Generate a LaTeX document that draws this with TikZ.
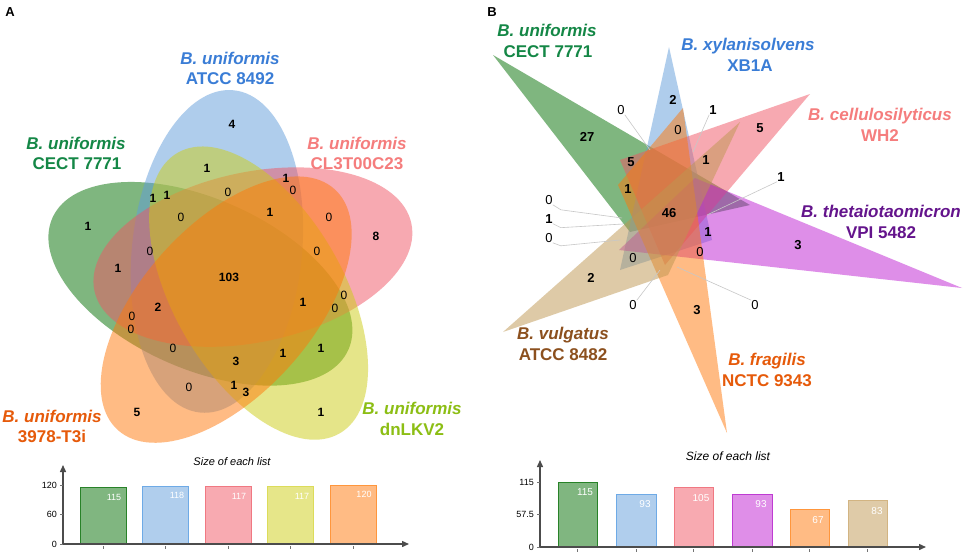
\documentclass[tikz,border=0pt]{standalone}
\usepackage{fontspec}
\setmainfont{Liberation Sans}
\usetikzlibrary{arrows.meta}
\definecolor{cgreen}{RGB}{0,110,0}
\definecolor{cblue}{RGB}{97,157,219}
\definecolor{cpink}{RGB}{240,85,100}
\definecolor{cyellow}{RGB}{205,205,20}
\definecolor{corange}{RGB}{255,120,10}
\definecolor{cpurple}{RGB}{190,30,210}
\definecolor{ctan}{RGB}{190,150,80}
\definecolor{tgreen}{RGB}{20,135,70}
\definecolor{tblue}{RGB}{58,125,214}
\definecolor{tpink}{RGB}{245,125,125}
\definecolor{tyellow}{RGB}{140,190,20}
\definecolor{torange}{RGB}{230,90,10}
\definecolor{tpurple}{RGB}{100,20,140}
\definecolor{tbrown}{RGB}{140,80,30}
\definecolor{sgreen}{RGB}{40,130,40}
\definecolor{sblue}{RGB}{110,170,230}
\definecolor{spink}{RGB}{240,120,130}
\definecolor{syellow}{RGB}{220,220,90}
\definecolor{sorange}{RGB}{255,150,60}
\definecolor{spurple}{RGB}{190,60,210}
\definecolor{stan}{RGB}{210,180,130}
\begin{document}
\begin{tikzpicture}[x=1pt,y=-1pt,
  venn/.style={fill opacity=0.5},
  lab/.style={font=\fontsize{17}{20}\selectfont\bfseries, anchor=base, inner sep=0pt},
  na/.style={font=\fontsize{12}{14}\selectfont\bfseries, inner sep=0pt},
  za/.style={font=\fontsize{12}{14}\selectfont, inner sep=0pt},
  nb/.style={font=\fontsize{13}{15}\selectfont\bfseries, inner sep=0pt},
  zb/.style={font=\fontsize{13}{15}\selectfont, inner sep=0pt},
  lead/.style={draw=black!22, line width=0.6pt},
  chartaxis/.style={draw=black!70, line width=1.4pt, -{Triangle[length=7pt,width=6pt]}},
  tickmark/.style={draw=black!55, line width=0.6pt},
  ticklab/.style={font=\fontsize{9}{11}\selectfont, anchor=east, inner sep=0pt},
  barvalA/.style={font=\fontsize{9}{11}\selectfont, text=white, inner sep=0pt},
  barvalB/.style={font=\fontsize{10}{12}\selectfont, text=white, inner sep=0pt},
  charttitle/.style={font=\itshape, inner sep=0pt},
  barbox/.style={line width=1pt},
  panel/.style={font=\fontsize{13}{15}\selectfont\bfseries, inner sep=0pt},
]
\useasboundingbox (0,0) rectangle (964,554);
\fill[white] (0,0) rectangle (964,554);

% ---------------- Panel A ----------------
\node[panel] (pA) at (10,12) {A};
\fill[cgreen, venn, shift={(200.4,283.8)}, rotate=-204] (0,0) ellipse [x radius=162pt, y radius=85pt];
\fill[cblue, venn, shift={(216.9,251.4)}, rotate=-276] (0,0) ellipse [x radius=162pt, y radius=85pt];
\fill[cpink, venn, shift={(252.9,257.1)}, rotate=-348] (0,0) ellipse [x radius=162pt, y radius=85pt];
\fill[cyellow, venn, shift={(258.6,293.1)}, rotate=-60] (0,0) ellipse [x radius=162pt, y radius=85pt];
\fill[corange, venn, shift={(226.2,309.6)}, rotate=-132] (0,0) ellipse [x radius=162pt, y radius=85pt];

\node[lab, text=tblue] (la1) at (230,64) {\textit{B. uniformis}};
\node[lab, text=tblue] (la2) at (230,84) {ATCC 8492};
\node[lab, text=tgreen] (la3) at (76,149) {\textit{B. uniformis}};
\node[lab, text=tgreen] (la4) at (77,169) {CECT 7771};
\node[lab, text=tpink] (la5) at (357,149) {\textit{B. uniformis}};
\node[lab, text=tpink] (la6) at (357,169) {CL3T00C23};
\node[lab, text=torange] (la7) at (52,422) {\textit{B. uniformis}};
\node[lab, text=torange] (la8) at (52,442) {3978-T3i};
\node[lab, text=tyellow] (la9) at (412,414) {\textit{B. uniformis}};
\node[lab, text=tyellow] (la10) at (412,435) {dnLKV2};

\node[na] (a1) at (232,124) {4};
\node[na] (a2) at (207,168) {1};
\node[na] (a3) at (286,178) {1};
\node[za] (a4) at (293,190) {0};
\node[na] (a5) at (153,198) {1};
\node[na] (a6) at (167,195) {1};
\node[za] (a7) at (228,192) {0};
\node[za] (a8) at (181,217) {0};
\node[na] (a9) at (270,212) {1};
\node[za] (a10) at (329,217) {0};
\node[na] (a11) at (376,236) {8};
\node[na] (a12) at (88,226) {1};
\node[za] (a13) at (150,251) {0};
\node[za] (a14) at (317,251) {0};
\node[na] (a15) at (118,268) {1};
\node[na] (a16) at (229,277) {103};
\node[za] (a17) at (344,295) {0};
\node[za] (a18) at (335,308) {0};
\node[na] (a19) at (303,302) {1};
\node[na] (a20) at (158,307) {2};
\node[za] (a21) at (132,316) {0};
\node[za] (a22) at (131,329) {0};
\node[za] (a23) at (173,348) {0};
\node[na] (a24) at (236,361) {3};
\node[na] (a25) at (283,353) {1};
\node[na] (a26) at (321,348) {1};
\node[za] (a27) at (189,387) {0};
\node[na] (a28) at (234,385) {1};
\node[na] (a29) at (246,392) {3};
\node[na] (a30) at (137,412) {5};
\node[na] (a31) at (321,412) {1};

% bar chart A
\node[charttitle, font=\fontsize{11}{13}\selectfont\itshape] (tA) at (232,462) {Size of each list};
\coordinate (oA) at (63,544);
\coordinate (yA) at (63,465);
\coordinate (xA) at (409,544);
\filldraw[barbox, fill=cgreen!50, draw=sgreen] (80,544) rectangle (126,487.5);
\filldraw[barbox, fill=cblue!50, draw=sblue] (142,544) rectangle (188,486);
\filldraw[barbox, fill=cpink!50, draw=spink] (205,544) rectangle (251,486.5);
\filldraw[barbox, fill=cyellow!50, draw=syellow] (267,544) rectangle (313,486.5);
\filldraw[barbox, fill=corange!50, draw=sorange] (330,544) rectangle (376,485);
\draw[chartaxis] (oA) -- (yA);
\draw[chartaxis] (oA) -- (xA);
\foreach \yy/\tl in {485/120, 514.5/60, 544/0} {
  \draw[tickmark] (60,\yy) -- (63,\yy);
  \node[ticklab] at (57,\yy) {\tl};
}
\foreach \xx in {103,165,228,290,353} {
  \draw[tickmark] (\xx,546) -- (\xx,549);
}
\node[barvalA] (va1) at (114,497) {115};
\node[barvalA] (va2) at (177,495) {118};
\node[barvalA] (va3) at (239,496) {117};
\node[barvalA] (va4) at (302,496) {117};
\node[barvalA] (va5) at (364,494) {120};

% ---------------- Panel B ----------------
\node[panel] (pB) at (492,12) {B};
\fill[cgreen, venn] (493,55) -- (630,232) -- (750,205) -- cycle;
\fill[cblue, venn] (669,47) -- (620,270) -- (712,240) -- cycle;
\fill[cpink, venn] (810,94) -- (620,160) -- (665,265) -- cycle;
\fill[cpurple, venn] (962,288) -- (619,250) -- (695,178) -- cycle;
\fill[corange, venn] (727,433) -- (683,108) -- (618,185) -- cycle;
\fill[ctan, venn] (503,332) -- (740,122) -- (668,275) -- cycle;

\node[lab, text=tgreen] (lb1) at (547,36) {\textit{B. uniformis}};
\node[lab, text=tgreen] (lb2) at (548,57) {CECT 7771};
\node[lab, text=tblue] (lb3) at (748,50) {\textit{B. xylanisolvens}};
\node[lab, text=tblue] (lb4) at (750,71) {XB1A};
\node[lab, text=tpink] (lb5) at (880,120) {\textit{B. cellulosilyticus}};
\node[lab, text=tpink] (lb6) at (880,141) {WH2};
\node[lab, text=tpurple] (lb7) at (881,217) {\textit{B. thetaiotaomicron}};
\node[lab, text=tpurple] (lb8) at (881,238) {VPI 5482};
\node[lab, text=tbrown] (lb9) at (563,339) {\textit{B. vulgatus}};
\node[lab, text=tbrown] (lb10) at (563,360) {ATCC 8482};
\node[lab, text=torange] (lb11) at (767,365) {\textit{B. fragilis}};
\node[lab, text=torange] (lb12) at (767,386) {NCTC 9343};

\node[nb] (b1) at (587,137) {27};
\node[nb] (b2) at (673,100) {2};
\node[zb] (b3) at (678,130) {0};
\node[nb] (b4) at (760,128) {5};
\node[nb] (b5) at (706,160) {1};
\node[nb] (b6) at (631,162) {5};
\node[nb] (b7) at (628,189) {1};
\node[nb] (b8) at (669,213) {46};
\node[nb] (b9) at (708,232) {1};
\node[zb] (b10) at (700,252) {0};
\node[zb] (b11) at (633,258) {0};
\node[nb] (b12) at (798,245) {3};
\node[nb] (b13) at (591,278) {2};
\node[nb] (b14) at (697,310) {3};

% leader-labelled values
\node[zb] (c1) at (621,110) {0};
\node[nb] (c2) at (713,110) {1};
\node[nb] (c3) at (781,177) {1};
\node[zb] (c4) at (549,200) {0};
\node[nb] (c5) at (549,219) {1};
\node[zb] (c6) at (549,238) {0};
\node[zb] (c7) at (633,305) {0};
\node[zb] (c8) at (755,305) {0};
\coordinate (d1) at (650,150);
\coordinate (d2) at (693,152);
\coordinate (d3) at (707,215);
\coordinate (d4) at (622,218);
\coordinate (d5) at (623,224);
\coordinate (d6) at (620,240);
\coordinate (d7) at (660,270);
\coordinate (d8) at (677,267);
\draw[lead] (c1.south east) -- (d1);
\draw[lead] (c2.south west) -- (d2);
\draw[lead] (c3.south west) -- (d3);
\draw[lead] (c4.south east) -- ++(8,5) -- (d4);
\draw[lead] (c5.south east) -- ++(8,4) -- (d5);
\draw[lead] (c6.south east) -- ++(8,3) -- (d6);
\draw[lead] (c7.north east) -- (d7);
\draw[lead] (c8.north west) -- (d8);

% bar chart B
\node[charttitle, font=\fontsize{12}{14}\selectfont\itshape] (tB) at (728,456) {Size of each list};
\coordinate (oB) at (540,547);
\coordinate (yB) at (540,460);
\coordinate (xB) at (926,547);
\filldraw[barbox, fill=cgreen!50, draw=sgreen] (558,547) rectangle (597,482);
\filldraw[barbox, fill=cblue!50, draw=sblue] (616,547) rectangle (656,494.4);
\filldraw[barbox, fill=cpink!50, draw=spink] (674,547) rectangle (713,487.7);
\filldraw[barbox, fill=cpurple!50, draw=spurple] (732,547) rectangle (772,494.4);
\filldraw[barbox, fill=corange!50, draw=sorange] (790,547) rectangle (829,509.1);
\filldraw[barbox, fill=ctan!50, draw=stan] (848,547) rectangle (887,500.1);
\draw[chartaxis] (oB) -- (yB);
\draw[chartaxis] (oB) -- (xB);
\foreach \yy/\tl in {482/115, 514.5/57.5, 547/0} {
  \draw[tickmark] (537,\yy) -- (540,\yy);
  \node[ticklab] at (534,\yy) {\tl};
}
\foreach \xx in {577.5,636,693.5,752,809.5,867.5} {
  \draw[tickmark] (\xx,549) -- (\xx,552);
}
\node[barvalB] (vb1) at (585,492) {115};
\node[barvalB] (vb2) at (645,504) {93};
\node[barvalB] (vb3) at (701,498) {105};
\node[barvalB] (vb4) at (761,504) {93};
\node[barvalB] (vb5) at (818,520) {67};
\node[barvalB] (vb6) at (877,511) {83};
\end{tikzpicture}
\end{document}
